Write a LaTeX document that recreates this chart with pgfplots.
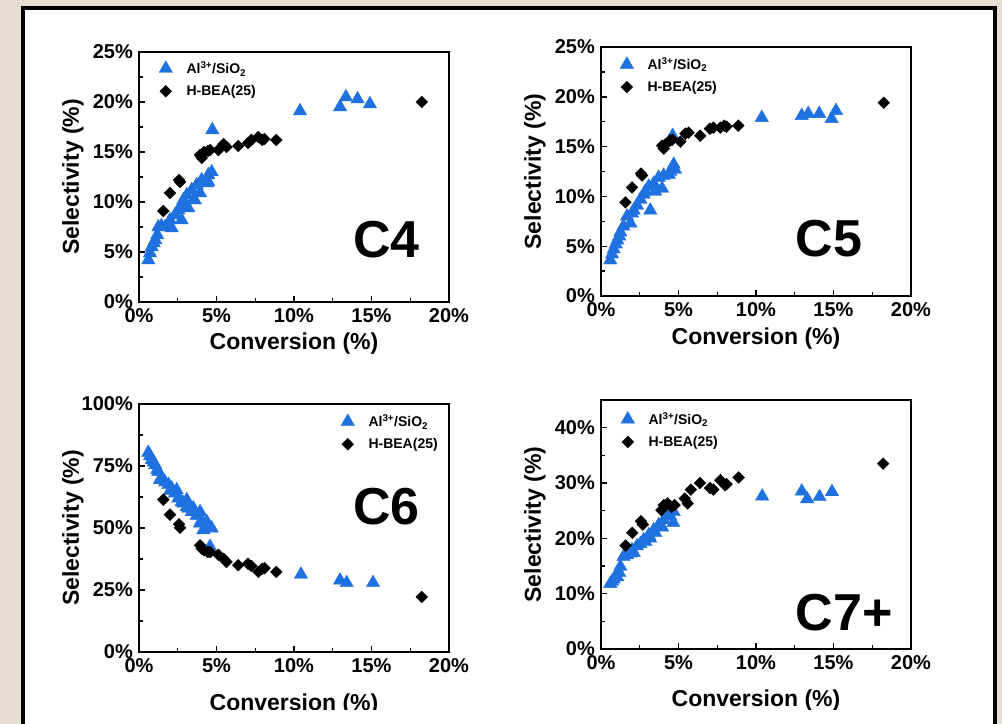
\documentclass[border=0pt]{standalone}
\usepackage{pgfplots}
\pgfplotsset{compat=1.18}
\usepackage{fontspec}
\setmainfont{Liberation Sans}
\definecolor{albl}{RGB}{31,113,224}
\definecolor{beige}{RGB}{230,222,211}
\newcommand{\fs}[1]{\fontsize{#1bp}{#1bp}\selectfont}
\pgfplotsset{
  myax/.style={
    scale only axis, width=310bp, height=250bp,
    xmin=0, xmax=20, xtick={0,5,10,15,20}, xticklabels={0\%,5\%,10\%,15\%,20\%},
    minor x tick num=1, minor y tick num=1,
    tick align=inside, tick pos=left,
    major tick length=6bp, minor tick length=4bp,
    axis line style={line width=1.7bp},
    every tick/.style={line width=1.4bp, black},
    tick label style={font=\bfseries\fs{20}},
    xticklabel style={anchor=north, inner sep=0pt, yshift=-6bp},
    yticklabel style={anchor=east, inner sep=0pt, xshift=-6bp},
    xlabel={Conversion (\%)}, ylabel={Selectivity (\%)},
    label style={font=\bfseries\fs{23}},
    ylabel style={at={([xshift=-66bp]axis description cs:0,0.5)}, anchor=center, inner sep=0pt},
    legend style={draw=none, fill=none, font=\bfseries\fs{14}, anchor=west, inner sep=0pt,
      row sep=10bp, column sep=14bp, nodes={inner sep=0pt}, cells={anchor=west}},
    legend image code/.code={\draw[mark repeat=2,mark phase=2,##1] plot coordinates {(0bp,0bp)(8bp,0bp)(16bp,0bp)};},
    clip=false,
  },
  alsty/.style={only marks, mark=triangle*, mark size=7.8bp, color=albl, mark options={draw=albl, fill=albl, line width=0.3bp}},
  hbsty/.style={only marks, mark=square*, mark size=4.2bp, color=black, mark options={rotate=45, fill=black, draw=black, line width=0.3bp}},
}
\begin{document}
\begin{tikzpicture}
\useasboundingbox (0,0) rectangle (1002bp,-724bp);
\fill[beige] (0,0) rectangle (1002bp,-724bp);
\fill[white] (23bp,-8bp) rectangle (995bp,-740bp);
\draw[black, line width=4bp] (23bp,-8bp) rectangle (995bp,-740bp);

% ---------------- C4 ----------------
\begin{axis}[myax, at={(139bp,-302bp)}, anchor=south west, height=250bp,
  ymin=0, ymax=25, ytick={0,5,10,15,20,25}, yticklabels={0\%,5\%,10\%,15\%,20\%,25\%},
  xlabel style={at={([yshift=-47bp]axis description cs:0.5,0)}, anchor=base, inner sep=0pt},
  legend style={at={(axis description cs:0.064,0.892)}}]
\addplot[alsty] coordinates {(0.60,4.2)(0.71,4.9)(0.82,5.5)(0.95,5.9)(1.05,6.2)(1.18,6.7)(1.25,7.5)(1.45,7.6)(1.68,7.5)(1.90,7.6)(2.00,8.2)(2.11,7.4)(2.32,8.7)(2.54,9.2)(2.75,9.7)(2.86,10.2)(3.08,10.7)(3.18,9.4)(3.40,11.2)(3.50,10.2)(3.72,11.7)(3.94,10.9)(4.04,12.2)(4.37,11.9)(4.47,12.7)(4.69,13.0)(2.75,8.2)(3.60,10.2)(4.47,12.0)(4.73,17.2)(10.39,19.1)(12.97,19.5)(13.35,20.5)(14.1,20.3)(14.9,19.8)};
\addlegendentry{Al\textsuperscript{3+}/SiO\textsubscript{2}}
\addplot[hbsty] coordinates {(1.57,9.1)(2.0,10.9)(2.58,12.2)(2.65,12.0)(3.94,14.7)(4.05,14.4)(4.2,15.0)(4.45,15.1)(4.6,15.2)(5.12,15.2)(5.45,15.8)(5.65,15.5)(6.4,15.6)(7.03,15.9)(7.25,16.2)(7.7,16.5)(7.95,16.2)(8.1,16.3)(8.86,16.2)(18.24,20.0)};
\addlegendentry{H-BEA(25)}
\node[anchor=base west, inner sep=0pt, font=\bfseries\fs{52}] at (axis description cs:0.69,0.18) {C4};
\end{axis}

% ---------------- C5 ----------------
\begin{axis}[myax, at={(601bp,-296bp)}, anchor=south west, height=249bp,
  ymin=0, ymax=25, ytick={0,5,10,15,20,25}, yticklabels={0\%,5\%,10\%,15\%,20\%,25\%},
  xlabel style={at={([yshift=-48bp]axis description cs:0.5,0)}, anchor=base, inner sep=0pt},
  legend style={at={(axis description cs:0.061,0.888)}}]
\addplot[alsty] coordinates {(0.60,3.6)(0.71,4.2)(0.82,4.7)(0.95,5.2)(1.05,5.6)(1.18,6.0)(1.25,6.4)(1.45,7.0)(1.68,8.0)(1.90,7.3)(2.00,8.3)(2.11,8.6)(2.32,9.1)(2.54,9.7)(2.75,10.2)(2.86,10.5)(3.08,11.0)(3.18,8.6)(3.40,11.3)(3.50,10.5)(3.72,11.9)(3.94,10.8)(4.04,12.1)(4.37,12.2)(4.47,12.5)(4.69,13.2)(4.77,12.7)(4.62,16.1)(10.37,17.9)(12.95,18.1)(13.37,18.3)(14.08,18.3)(14.88,17.8)(15.16,18.6)};
\addlegendentry{Al\textsuperscript{3+}/SiO\textsubscript{2}}
\addplot[hbsty] coordinates {(1.57,9.4)(2.0,10.9)(2.58,12.3)(2.65,12.1)(3.94,15.1)(4.05,14.8)(4.2,15.3)(4.45,15.6)(4.6,15.7)(5.12,15.5)(5.45,16.3)(5.65,16.4)(6.4,16.1)(7.03,16.8)(7.25,16.9)(7.7,16.9)(7.95,17.1)(8.1,17.0)(8.86,17.1)(18.24,19.4)};
\addlegendentry{H-BEA(25)}
\node[anchor=base west, inner sep=0pt, font=\bfseries\fs{52}] at (axis description cs:0.627,0.16) {C5};
\end{axis}

% ---------------- C6 ----------------
\begin{axis}[myax, at={(139bp,-652bp)}, anchor=south west, height=248bp,
  ymin=0, ymax=100, ytick={0,25,50,75,100}, yticklabels={0\%,25\%,50\%,75\%,100\%},
  xlabel style={at={([yshift=-58.5bp]axis description cs:0.5,0)}, anchor=base, inner sep=0pt},
  legend style={at={(axis description cs:0.651,0.887)}}]
\addplot[alsty] coordinates {(0.60,80.4)(0.71,79.0)(0.82,77.4)(0.95,76.5)(1.05,75.4)(1.18,73.5)(1.25,72.7)(1.35,69.4)(1.45,70.5)(1.68,68.5)(1.90,67.5)(2.00,65.0)(2.11,66.0)(2.32,64.0)(2.43,65.3)(2.54,62.0)(2.75,60.5)(2.86,60.0)(3.08,58.5)(3.08,61.3)(3.18,57.9)(3.40,56.5)(3.50,58.0)(3.72,55.0)(3.94,56.5)(3.94,51.9)(4.04,53.2)(4.15,49.2)(4.37,52.5)(4.47,51.0)(4.69,49.9)(4.58,42.5)(10.45,31.3)(12.97,28.9)(13.4,27.9)(15.1,27.9)};
\addlegendentry{Al\textsuperscript{3+}/SiO\textsubscript{2}}
\addplot[hbsty] coordinates {(1.57,61.4)(2.0,55.4)(2.58,51.5)(2.65,50.1)(3.94,43.0)(4.05,41.7)(4.2,41.0)(4.45,40.3)(4.6,40.3)(5.12,39.2)(5.45,37.6)(5.65,36.3)(6.4,35.0)(7.03,35.6)(7.25,34.7)(7.7,32.3)(7.95,33.6)(8.1,33.8)(8.86,32.3)(18.24,22.2)};
\addlegendentry{H-BEA(25)}
\node[anchor=base west, inner sep=0pt, font=\bfseries\fs{52}] at (axis description cs:0.69,0.516) {C6};
\end{axis}

% ---------------- C7+ ----------------
\begin{axis}[myax, at={(601bp,-649bp)}, anchor=south west, height=249bp,
  ymin=0, ymax=45, ytick={0,10,20,30,40}, yticklabels={0\%,10\%,20\%,30\%,40\%},
  xlabel style={at={([yshift=-57.5bp]axis description cs:0.5,0)}, anchor=base, inner sep=0pt},
  legend style={at={(axis description cs:0.064,0.881)}}]
\addplot[alsty] coordinates {(0.60,11.8)(0.71,12.2)(0.82,12.6)(0.95,13.1)(1.05,13.0)(1.18,13.8)(1.25,14.9)(1.45,16.7)(1.68,17.0)(1.90,17.3)(2.00,17.9)(2.11,17.4)(2.32,18.6)(2.54,19.0)(2.75,19.7)(2.86,19.4)(3.08,20.6)(3.18,20.0)(3.40,21.5)(3.50,21.0)(3.72,22.4)(3.94,22.0)(4.04,23.3)(4.37,24.2)(4.47,24.0)(4.69,24.8)(4.67,22.8)(10.4,27.6)(12.95,28.5)(13.3,27.1)(14.1,27.5)(14.9,28.4)};
\addlegendentry{Al\textsuperscript{3+}/SiO\textsubscript{2}}
\addplot[hbsty] coordinates {(1.59,18.7)(2.02,21.0)(2.58,23.1)(2.7,22.5)(3.9,25.1)(4.05,26.0)(4.3,26.3)(4.56,25.7)(4.75,26.0)(5.4,27.2)(5.6,26.3)(5.8,28.8)(6.39,30.0)(7.03,29.1)(7.25,28.8)(7.7,30.5)(8.0,29.6)(8.1,29.8)(8.88,31.0)(18.2,33.5)};
\addlegendentry{H-BEA(25)}
\node[anchor=base west, inner sep=0pt, font=\bfseries\fs{52}] at (axis description cs:0.627,0.076) {C7+};
\end{axis}

\fill[white] (25bp,-710bp) rectangle (993bp,-730bp);
\end{tikzpicture}
\end{document}
